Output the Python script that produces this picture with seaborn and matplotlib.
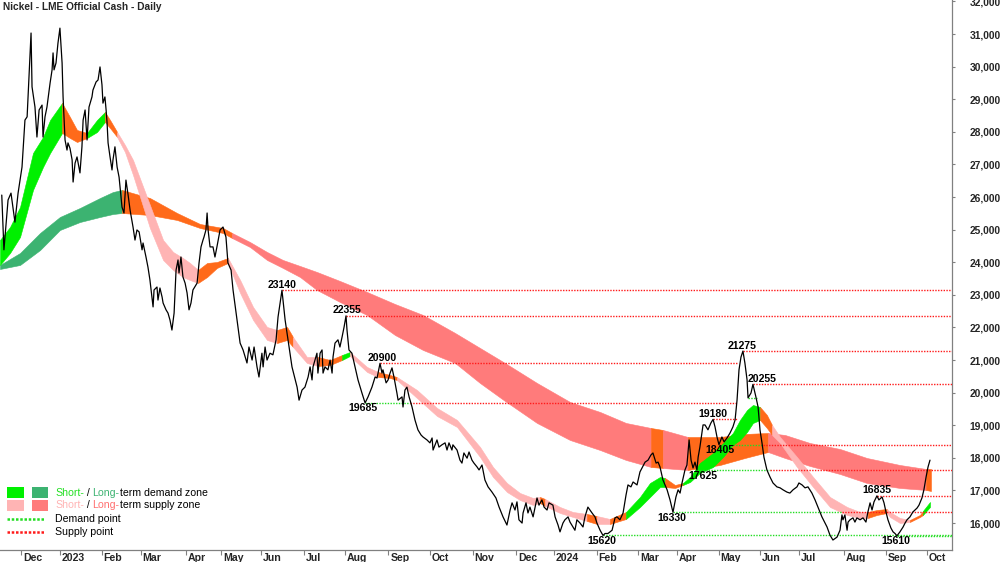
import numpy as np
import matplotlib
matplotlib.use("Agg")
import matplotlib.pyplot as plt
import seaborn as sns
from matplotlib.patches import Rectangle
from matplotlib.lines import Line2D
from matplotlib.transforms import blended_transform_factory, offset_copy

# ---------------- data ----------------
title = "Nickel - LME Official Cash - Daily"

# x axis = LME trading-day number counted from 1 Dec 2022
month_labels = ["Dec", "2023", "Feb", "Mar", "Apr", "May", "Jun", "Jul", "Aug", "Sep", "Oct", "Nov",
                "Dec", "2024", "Feb", "Mar", "Apr", "May", "Jun", "Jul", "Aug", "Sep", "Oct"]
month_start_day = [0, 20, 41, 61, 84, 102, 122, 144, 165, 187, 208, 230,
                   252, 271, 293, 314, 334, 355, 376, 396, 419, 440, 461]

price_day = [
    -9.8, -8.7, -6.6, -5.1, -3.1, -1.5, 0.5, 2.0, 3.1, 5.1,
    5.6, 7.1, 8.1, 9.2, 10.7, 11.2, 12.2, 13.2, 14.8, 15.8,
    16.3, 16.8, 17.8, 18.8, 19.8, 20.9, 21.4, 22.4, 23.4, 23.9,
    24.9, 26.0, 26.5, 27.5, 28.5, 30.0, 31.0, 31.6, 32.6, 33.6,
    34.6, 36.1, 36.6, 38.2, 39.2, 40.2, 41.2, 41.7, 42.7, 43.3,
    43.8, 44.3, 45.3, 46.3, 46.8, 47.8, 48.9, 49.9, 51.4, 52.4,
    53.4, 54.5, 55.5, 57.0, 58.0, 59.0, 60.1, 61.6, 62.1, 63.6,
    64.6, 65.6, 67.2, 67.7, 69.2, 69.7, 70.7, 71.8, 72.3, 73.8,
    74.8, 75.8, 76.8, 77.9, 78.9, 79.9, 80.4, 81.4, 82.4, 83.5,
    84.5, 85.5, 86.5, 87.5, 89.6, 90.6, 91.6, 92.6, 93.1, 94.1,
    94.7, 95.2, 96.2, 97.7, 98.7, 99.7, 101.3, 102.8, 104.3, 105.3,
    106.9, 107.9, 109.9, 111.5, 113.0, 115.0, 116.0, 117.6, 118.6, 120.1,
    121.1, 122.6, 123.2, 124.2, 125.2, 126.7, 128.2, 129.8, 130.8, 132.8,
    134.4, 135.9, 137.9, 140.5, 141.5, 143.0, 144.5, 146.1, 147.1, 148.1,
    148.6, 149.6, 150.6, 151.1, 152.2, 153.2, 153.7, 154.7, 156.2, 157.3,
    158.3, 158.8, 159.8, 161.3, 162.3, 163.4, 164.4, 165.4, 165.9, 166.9,
    168.4, 170.0, 171.5, 173.5, 175.1, 176.6, 178.6, 180.2, 181.2, 182.7,
    183.7, 184.2, 185.8, 186.8, 187.8, 188.8, 189.8, 191.3, 191.9, 193.9,
    194.4, 195.4, 196.4, 197.5, 199.0, 200.5, 202.0, 203.6, 204.6, 206.6,
    208.1, 209.2, 209.7, 211.7, 212.7, 214.2, 215.8, 216.8, 217.8, 219.3,
    219.8, 221.9, 223.4, 224.4, 225.4, 227.0, 228.0, 229.5, 230.5, 232.1,
    233.1, 234.6, 236.1, 237.7, 239.7, 241.7, 243.3, 245.3, 247.3, 248.9,
    249.9, 251.4, 252.4, 253.4, 255.0, 255.5, 257.0, 258.0, 259.0, 260.6,
    262.6, 263.6, 265.1, 266.2, 267.7, 268.7, 270.7, 271.8, 273.3, 274.3,
    275.8, 276.8, 278.4, 279.4, 280.9, 281.9, 282.9, 284.5, 286.0, 287.0,
    288.5, 290.6, 292.1, 293.1, 294.7, 296.2, 297.2, 298.7, 300.8, 302.3,
    303.3, 304.8, 306.4, 307.9, 308.9, 310.4, 311.5, 313.5, 315.0, 317.6,
    319.1, 320.6, 321.6, 323.2, 324.2, 325.2, 326.7, 328.8, 330.3, 331.8,
    333.3, 334.4, 335.4, 336.4, 337.9, 338.9, 340.0, 341.0, 342.0, 343.0,
    344.0, 344.6, 345.5, 347.1, 348.1, 349.6, 351.1, 352.2, 353.2, 354.2,
    355.2, 356.7, 357.8, 359.3, 360.8, 362.3, 363.4, 364.4, 365.4, 366.4,
    367.4, 368.4, 369.5, 370.0, 371.5, 372.5, 374.0, 375.1, 376.1, 377.1,
    378.1, 379.6, 381.2, 382.7, 384.7, 386.3, 387.8, 389.8, 391.3, 392.9,
    394.9, 395.9, 397.5, 399.0, 400.5, 402.5, 404.1, 405.6, 407.6, 410.2,
    411.7, 413.2, 415.3, 416.8, 417.8, 418.3, 419.3, 420.4, 420.9, 421.9,
    423.4, 424.4, 425.4, 427.0, 428.5, 430.0, 431.0, 432.1, 433.1, 434.1,
    435.6, 436.6, 438.2, 439.2, 440.2, 441.2, 442.7, 443.8, 444.8, 445.8,
    447.3, 448.9, 449.9, 450.9, 452.4, 453.9, 456.0, 457.0, 458.5, 459.5,
    460.6, 461.6, 462.6,
]
price = [
    26060, 24380, 25910, 26120, 25230, 26120, 26920, 28360, 28460, 31030,
    29380, 28760, 27840, 28670, 28820, 27840, 28460, 28760, 29500, 29900,
    30420, 29900, 30110, 30720, 31180, 30110, 29070, 27750, 27440, 27660,
    27500, 27140, 26460, 27040, 27230, 26740, 27540, 28360, 28670, 27750,
    28760, 29070, 29280, 29530, 29590, 29990, 29440, 28880, 29070, 28670,
    28270, 27660, 27230, 26830, 27140, 27540, 26920, 26610, 25690, 25510,
    26520, 26060, 25600, 25080, 24680, 24990, 24930, 24380, 24590, 24160,
    23850, 23460, 22630, 23150, 23240, 22840, 23210, 22930, 22750, 22540,
    22440, 22230, 21920, 22440, 23760, 24070, 23670, 24160, 23550, 23360,
    23060, 22540, 22750, 23150, 23360, 23980, 24470, 24680, 24770, 24990,
    25510, 24990, 24470, 24470, 24160, 24470, 24990, 25080, 24770, 23980,
    23760, 23150, 22230, 21520, 21310, 20910, 21400, 21000, 21400, 20790,
    20480, 21210, 20790, 21400, 21000, 21210, 21160, 21620, 22320, 23140,
    22230, 21620, 20790, 20170, 19770, 20080, 20170, 20480, 20790, 20390,
    20790, 21000, 21210, 20600, 21210, 21310, 20600, 20790, 20700, 21000,
    20600, 21100, 21520, 21620, 21400, 21710, 22010, 22355, 21920, 21310,
    21210, 20790, 20390, 19990, 19685, 19870, 20170, 20480, 20450, 20900,
    20600, 20700, 20300, 20390, 20600, 20760, 20480, 19990, 19770, 19870,
    19560, 20080, 20170, 19870, 19560, 19160, 18860, 18700, 18640, 18550,
    18460, 18610, 18240, 18550, 18330, 18400, 18460, 18240, 18460, 18240,
    18400, 18240, 17930, 17840, 18150, 17990, 18180, 17930, 17840, 17720,
    17630, 17780, 17320, 17110, 16950, 16770, 16490, 16190, 15940, 16400,
    16620, 16400, 16650, 16100, 16000, 16310, 16620, 16310, 16490, 16190,
    16770, 16550, 16710, 16490, 16400, 16620, 16550, 16190, 15940, 15730,
    16000, 16100, 16190, 16030, 15880, 15780, 16100, 16000, 15880, 16190,
    16490, 16310, 16190, 16000, 15780, 15620, 15680, 15680, 15780, 16160,
    16190, 16100, 16310, 16860, 17170, 17110, 17260, 17170, 17570, 17870,
    17930, 18090, 18150, 17840, 17870, 17720, 17320, 17020, 16710, 16330,
    16800, 17020, 16920, 17230, 17630, 17780, 18550, 17930, 17690, 17870,
    17625, 18020, 18330, 19010, 19010, 18860, 19070, 19180, 18950, 18640,
    18405, 18640, 18490, 18610, 18760, 18950, 19160, 19770, 20700, 21090,
    21275, 20910, 20390, 19840, 19990, 20255, 19870, 19560, 18850, 18460,
    18020, 17630, 17410, 17230, 17110, 17080, 17020, 16950, 16920, 17020,
    17110, 17230, 17170, 17080, 17110, 16920, 16710, 16490, 16190, 15880,
    15630, 15480, 15570, 15780, 16250, 16100, 16250, 15780, 16030, 16100,
    16160, 16030, 16160, 16100, 16160, 16030, 16340, 16620, 16400, 16650,
    16835, 16710, 16800, 16620, 16340, 16100, 15850, 15730, 15680, 15610,
    15730, 15880, 16000, 16100, 16190, 16340, 16460, 16550, 16770, 17020,
    17410, 17720, 17930,
]

# long-term zone band: D = demand, S = supply, N = neutral (zone of the span that starts at the point)
lt_day = [-10.7, -0.5, 9.7, 19.8, 30.0, 40.2, 46.8, 51.4, 65.6, 79.4,
          91.1, 102.8, 107.4, 116.5, 125.2, 133.3, 142.0, 150.6, 162.3, 176.1,
          190.3, 204.6, 220.9, 233.6, 246.3, 262.6, 279.4, 294.7, 307.9, 320.6,
          326.7, 339.4, 355.7, 368.4, 380.2, 388.8, 401.5, 416.8, 430.5, 447.3,
          460.6, 463.1]
lt_hi = [23916, 24283, 24897, 25388, 25664, 25970, 26154, 26216, 25970, 25510,
         25173, 25050, 24897, 24621, 24314, 24069, 23885, 23701, 23425, 23087,
         22719, 22382, 21830, 21370, 20910, 20296, 19714, 19407, 19070, 18916,
         18855, 18640, 18640, 18732, 18763, 18702, 18456, 18272, 17996, 17781,
         17659, 17659]
lt_lo = [23793, 23916, 24375, 24989, 25234, 25388, 25479, 25510, 25448, 25296,
         25050, 24897, 24743, 24468, 24069, 23824, 23547, 23149, 22781, 22382,
         21769, 21308, 20910, 20296, 19745, 19070, 18548, 18241, 17935, 17720,
         17689, 17628, 17781, 17996, 18180, 17996, 17751, 17505, 17229, 17076,
         17015, 16984]
lt_zone = "DDDDDDD" + "NNNNN" + "SSSSSSSSSSSSSSSSS" + "N" + "S" + "NNN" + "SSSSSS" + "NN"

# short-term zone band: G = demand, P = supply, N = neutral
st_day = [-10.7, -5.6, -0.5, 6.1, 11.2, 14.8, 20.9, 24.9, 28.5, 33.6,
          38.7, 42.7, 45.3, 48.9, 52.9, 57.0, 65.6, 72.3, 77.4, 82.4,
          86.0, 90.1, 94.7, 99.7, 105.3, 111.5, 118.1, 125.2, 130.3, 135.4,
          138.4, 145.5, 151.1, 157.3, 163.4, 167.4, 176.1, 181.7, 187.8, 191.3,
          201.5, 211.7, 221.9, 233.6, 240.2, 247.3, 253.9, 260.6, 264.1, 266.7,
          274.3, 280.9, 288.0, 293.1, 299.7, 307.9, 315.0, 320.1, 325.2, 327.7,
          332.8, 336.9, 340.5, 345.5, 352.2, 357.3, 362.3, 365.9, 369.5, 372.5,
          376.1, 379.6, 382.2, 386.3, 394.9, 403.1, 411.7, 420.4, 427.0, 431.0,
          435.6, 440.7, 442.2, 447.3, 452.4, 457.5, 459.0, 462.6]
st_hi = [24682, 25081, 25694, 27350, 27841, 28363, 28884, 28455, 28056, 27964,
         28363, 28608, 28363, 27995, 27596, 27136, 25756, 24682, 24314, 24130,
         23977, 23762, 23977, 24007, 24130, 23455, 22627, 22014, 21922, 22014,
         21707, 21094, 21094, 21002, 21155, 21247, 20787, 20634, 20542, 20480,
         20082, 19530, 19162, 18334, 17720, 17229, 16923, 16769, 16800, 16739,
         16493, 16340, 16279, 16217, 16125, 16340, 16800, 17229, 17414, 17383,
         17168, 17229, 17414, 17843, 18149, 18456, 18763, 19162, 19468, 19622,
         19560, 19315, 19008, 18640, 18026, 17414, 16800, 16493, 16340, 16340,
         16401, 16432, 16340, 16156, 16095, 16248, 16371, 16647]
st_lo = [23916, 24283, 24774, 26216, 26921, 27350, 27964, 27811, 27688, 27811,
         27995, 28301, 28117, 27841, 27381, 26676, 25050, 24069, 23762, 23547,
         23455, 23363, 23547, 23824, 23977, 23057, 22229, 21615, 21523, 21615,
         21401, 20910, 20818, 20848, 21002, 21125, 20634, 20480, 20450, 20388,
         19836, 19284, 18947, 18026, 17414, 16954, 16708, 16555, 16616, 16524,
         16309, 16187, 16064, 15972, 15972, 16125, 16493, 16800, 17107, 17107,
         17076, 17168, 17260, 17536, 17720, 18026, 18395, 18548, 18794, 19070,
         19162, 18916, 18702, 18456, 17720, 17107, 16493, 16248, 16156, 16156,
         16248, 16309, 16187, 16002, 16034, 16187, 16248, 16493]
st_zone = ("GGGGGG" + "NNN" + "GG" + "NN" + "PPPPPPPP" + "NNN" + "PPPP" + "NN" + "PP"
           + "NN" + "G" + "PP" + "NN" + "PPPPPPPPP" + "N" + "PPP" + "N" + "P" + "N"
           + "GGGG" + "NN" + "GGGGGGGGG" + "NN" + "PPPPPPP" + "NN" + "PPP" + "NN" + "GG")

# supply points (red dotted); NaN end = still running at the right edge
supply_price = [23140, 22355, 20900, 19180, 21275, 20255, 16835]
supply_from = [132.8, 165.4, 182.7, 352.2, 367.4, 372.5, 435.6]
supply_to = [np.nan, np.nan, 364.4, 364.4, np.nan, np.nan, np.nan]

# demand points (green dotted), turning to supply where broken
demand_price = [19685, 15620, 16330, 17625, 18405, 19840, 15610]
demand_from = [175.1, 296.2, 331.8, 344.0, 355.2, 370.0, 445.8]
demand_broken = [198.0, np.nan, 417.8, 381.2, 377.6, np.nan, np.nan]
demand_to = [364.4, np.nan, np.nan, np.nan, np.nan, 374.6, np.nan]
demand_labelled = [True, True, True, True, True, False, True]

y_ticks = list(range(16000, 33000, 1000))

# ---------------- style ----------------
sns.set_style("white")
plt.rcParams["font.family"] = ["Liberation Sans", "DejaVu Sans"]

GREEN = "#00F000"
GREEN_DK = "#3CB371"
PINK = "#FFB4B4"
SALMON = "#FF7B7B"
ORANGE = "#FF6A1A"
RED = "#FF1A1A"
GREEN_LINE = "#22DD22"
AXIS_GREY = "#808080"

W, H = 1000, 562
fig = plt.figure(figsize=(W / 100, H / 100), dpi=100)
ax = fig.add_axes([0, 12 / H, 952 / W, 550 / H])
X0, X1 = -10.7, 473.8
Y0, Y1 = 15174, 32043


def draw_band(days, hi, lo, zones, palette, z):
    days = np.asarray(days, float)
    hi = np.asarray(hi, float)
    lo = np.asarray(lo, float)
    n = len(days)
    start = 0
    for k in range(1, n):
        if zones[k] != zones[start] or k == n - 1:
            c = palette[zones[start]]
            ax.fill_between(days[start:k + 1], lo[start:k + 1], hi[start:k + 1],
                            facecolor=c, edgecolor=c, linewidth=0.4, zorder=z)
            start = k


draw_band(lt_day, lt_hi, lt_lo, lt_zone, {"D": GREEN_DK, "S": SALMON, "N": ORANGE}, 1)
draw_band(st_day, st_hi, st_lo, st_zone, {"G": GREEN, "P": PINK, "N": ORANGE}, 2)

dot = (0, (1, 1))
for p, a, b in zip(supply_price, supply_from, supply_to):
    end = X1 if np.isnan(b) else b
    ax.plot([a, end], [p, p], color=RED, lw=1.0, ls=dot, zorder=3)
for p, a, brk, b in zip(demand_price, demand_from, demand_broken, demand_to):
    end = X1 if np.isnan(b) else b
    g_end = end if np.isnan(brk) else brk
    ax.plot([a, g_end], [p, p], color=GREEN_LINE, lw=1.0, ls=dot, zorder=3)
    if not np.isnan(brk):
        ax.plot([brk, end], [p, p], color=RED, lw=1.0, ls=dot, zorder=3)

sns.lineplot(x=price_day, y=price, color="black", linewidth=0.9, ax=ax, zorder=4)

# level labels
nudge = {20255: 4.6, 17625: 3.1, 22355: 0.5, 20900: 1.0, 19685: -1.0, 21275: -0.5,
         18405: 0.5, 16330: -0.5, 15620: -0.5, 15610: -0.5}
up = offset_copy(ax.transData, fig=fig, y=0.5, units="dots")
down = offset_copy(ax.transData, fig=fig, y=-0.5, units="dots")
LBL = dict(fontsize=7.6, fontweight="bold", color="black", ha="center", zorder=6)
for p, a in zip(supply_price, supply_from):
    ax.text(a + nudge.get(p, 0), p, str(p), transform=up, va="bottom", **LBL)
for p, a, show in zip(demand_price, demand_from, demand_labelled):
    if show:
        ax.text(a + nudge.get(p, 0), p, str(p), transform=down, va="top", **LBL)

# axes
ax.set_xlim(X0, X1)
ax.set_ylim(Y0, Y1)
ax.set_xlabel("")
ax.set_ylabel("")
for s in ["left", "top"]:
    ax.spines[s].set_visible(False)
for s in ["right", "bottom"]:
    ax.spines[s].set_color(AXIS_GREY)
    ax.spines[s].set_linewidth(0.9)
ax.yaxis.tick_right()
ax.set_yticks(y_ticks)
ax.set_yticklabels([f"{v:,}" for v in y_ticks])
ax.tick_params(axis="y", right=True, left=False, length=2.5, width=0.8, color=AXIS_GREY,
               pad=10, labelsize=7.4, direction="out")
for lbl in ax.get_yticklabels():
    lbl.set_fontweight("bold")
ax.set_xticks(month_start_day)
ax.set_xticklabels([])
ax.tick_params(axis="x", bottom=True, length=3.5, width=0.8, color=AXIS_GREY, direction="out")
ax.grid(False)

xtrans = blended_transform_factory(ax.transData, fig.transFigure)
for d, lab in zip(month_start_day, month_labels):
    ax.text(d + 0.9, 1 - 553 / H, lab, transform=xtrans, ha="left", va="top",
            fontsize=7.6, fontweight="bold", clip_on=False)

fig.text(3 / W, 1 - 7 / H, title, ha="left", va="center", fontsize=7.3, fontweight="bold")

# legend
def fig_rect(x0, y0, x1, y1, color):
    fig.add_artist(Rectangle((x0 / W, 1 - y1 / H), (x1 - x0) / W, (y1 - y0) / H,
                             transform=fig.transFigure, facecolor=color, edgecolor="none"))


fig_rect(7, 487, 24, 498, GREEN)
fig_rect(32, 487, 48, 498, GREEN_DK)
fig_rect(7, 500, 24, 511, PINK)
fig_rect(32, 500, 48, 511, SALMON)
fig.add_artist(Line2D([7 / W, 44 / W], [1 - 519 / H] * 2, transform=fig.transFigure,
                      color=GREEN_LINE, lw=1.8, ls=(0, (1, 0.7))))
fig.add_artist(Line2D([7 / W, 44 / W], [1 - 532 / H] * 2, transform=fig.transFigure,
                      color=RED, lw=1.8, ls=(0, (1, 0.7))))

renderer = fig.canvas.get_renderer()


def text_width(s, size):
    t = fig.text(0, 0, s + "x", fontsize=size)
    t2 = fig.text(0, 0, "x", fontsize=size)
    w = t.get_window_extent(renderer=renderer).width - t2.get_window_extent(renderer=renderer).width
    t.remove()
    t2.remove()
    return w


def rich(xpx, ypx, parts, size=7.6):
    prefix = ""
    for s, c in parts:
        x = xpx + (text_width(prefix, size) if prefix else 0)
        fig.text(x / W, 1 - ypx / H, s, color=c, fontsize=size, ha="left", va="center")
        prefix += s


rich(55, 492.5, [("Short-", "#22E022"), (" / ", "black"), ("Long-", GREEN_DK), ("term demand zone", "black")])
rich(55, 505.5, [("Short-", PINK), (" / ", "black"), ("Long-", "#FF6F6F"), ("term supply zone", "black")])
rich(55, 519, [("Demand point", "black")])
rich(55, 532, [("Supply point", "black")])

fig.savefig("out.png", dpi=100)
